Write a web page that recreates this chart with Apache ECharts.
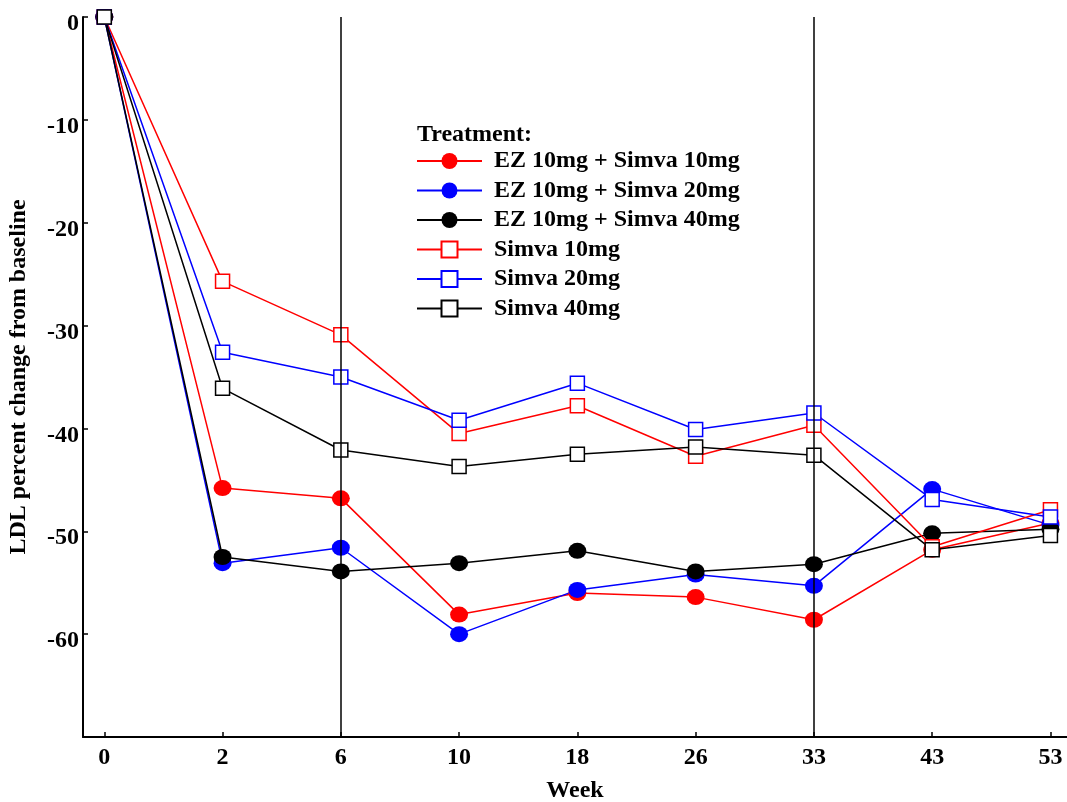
<!DOCTYPE html>
<html>
<head>
<meta charset="utf-8">
<script src="https://cdn.jsdelivr.net/npm/echarts@6/dist/echarts.min.js"></script>
<style>html,body{margin:0;padding:0;background:#fff}#c{width:1067px;height:802px}</style>
</head>
<body>
<div id="c"></div>
<script>
var weeks = ['0','2','6','10','18','26','33','43','53'];
var seriesNames = ['EZ 10mg + Simva 10mg','EZ 10mg + Simva 20mg','EZ 10mg + Simva 40mg','Simva 10mg','Simva 20mg','Simva 40mg'];
var ez10 = [0, -45.8, -46.8, -58.1, -56.0, -56.4, -58.6, -51.8, -49.2];
var ez20 = [0, -53.1, -51.6, -60.0, -55.7, -54.2, -55.3, -45.9, -49.4];
var ez40 = [0, -52.5, -53.9, -53.1, -51.9, -53.9, -53.2, -50.2, -49.8];
var simva10 = [0, -25.7, -30.9, -40.5, -37.8, -42.7, -39.7, -51.5, -47.9];
var simva20 = [0, -32.6, -35.0, -39.2, -35.6, -40.1, -38.5, -46.9, -48.6];
var simva40 = [0, -36.1, -42.1, -43.7, -42.5, -41.8, -42.6, -51.8, -50.4];
var refWeeks = ['6','33'];
var yTicks = [0,-10,-20,-30,-40,-50,-60];

var font = 'Liberation Serif';
function pts(arr){ return arr.map(function(v,i){ return [i, v]; }); }
var colors = ['#ff0000','#0000ff','#000000','#ff0000','#0000ff','#000000'];
var datas = [ez10, ez20, ez40, simva10, simva20, simva40];
var series = datas.map(function(d, k){
  var filled = k < 3;
  return {
    name: seriesNames[k], type: 'line', data: pts(d),
    symbol: filled ? 'circle' : 'rect',
    symbolSize: filled ? [18,16] : 14,
    itemStyle: filled ? {color: colors[k]} : {color: '#fff', borderColor: colors[k], borderWidth: 1.5},
    lineStyle: {color: colors[k], width: 1.5},
    emphasis: {disabled: true},
    z: filled ? 3 : 4,
    animation: false
  };
});
series[0].markLine = {
  silent: true, symbol: 'none', label: {show: false},
  lineStyle: {color: '#000', width: 1.5, type: 'solid'},
  data: refWeeks.map(function(w){ return {xAxis: weeks.indexOf(w)}; }),
  animation: false
};

var chart = echarts.init(document.getElementById('c'));
chart.setOption({
  backgroundColor: '#fff',
  animation: false,
  grid: {left: 83, right: 0, top: 17, bottom: 65, outerBoundsMode: 'none', containLabel: false},
  xAxis: {
    type: 'value', min: -0.18, max: 8.14,
    name: 'Week', nameLocation: 'middle', nameGap: 42,
    nameTextStyle: {fontFamily: font, fontWeight: 'bold', fontSize: 24, color: '#000'},
    axisLine: {onZero: false, lineStyle: {color: '#000', width: 2}},
    axisTick: {inside: true, length: 5, lineStyle: {color: '#000', width: 1.5}, customValues: weeks.map(function(w,i){return i;})},
    axisLabel: {customValues: weeks.map(function(w,i){return i;}), formatter: function(v){ return weeks[Math.round(v)]; },
      fontFamily: font, fontWeight: 'bold', fontSize: 24, color: '#000', margin: 9},
    splitLine: {show: false}
  },
  yAxis: {
    type: 'value', min: -70, max: 0,
    name: 'LDL percent change from baseline', nameLocation: 'middle', nameGap: 52,
    nameTextStyle: {fontFamily: font, fontWeight: 'bold', fontSize: 24, color: '#000'},
    axisLine: {onZero: false, lineStyle: {color: '#000', width: 2}},
    axisTick: {inside: true, length: 5, lineStyle: {color: '#000', width: 1.5}, customValues: yTicks},
    axisLabel: {customValues: yTicks, fontFamily: font, fontWeight: 'bold', fontSize: 24, color: '#000', margin: 4, verticalAlign: 'top', lineHeight: 14},
    splitLine: {show: false}
  },
  legend: {
    orient: 'vertical', left: 416, top: 149, padding: 0,
    itemWidth: 65, itemHeight: 20, itemGap: 5.5,
    data: seriesNames,
    textStyle: {fontFamily: font, fontWeight: 'bold', fontSize: 24, lineHeight: 24, color: '#000', padding: [0,0,0,7]},
    selectedMode: false
  },
  graphic: [{
    type: 'text', left: 417, top: 123,
    style: {text: 'Treatment:', font: 'bold 24px "Liberation Serif"', fill: '#000'}
  }],
  series: series
});
</script>
</body>
</html>
